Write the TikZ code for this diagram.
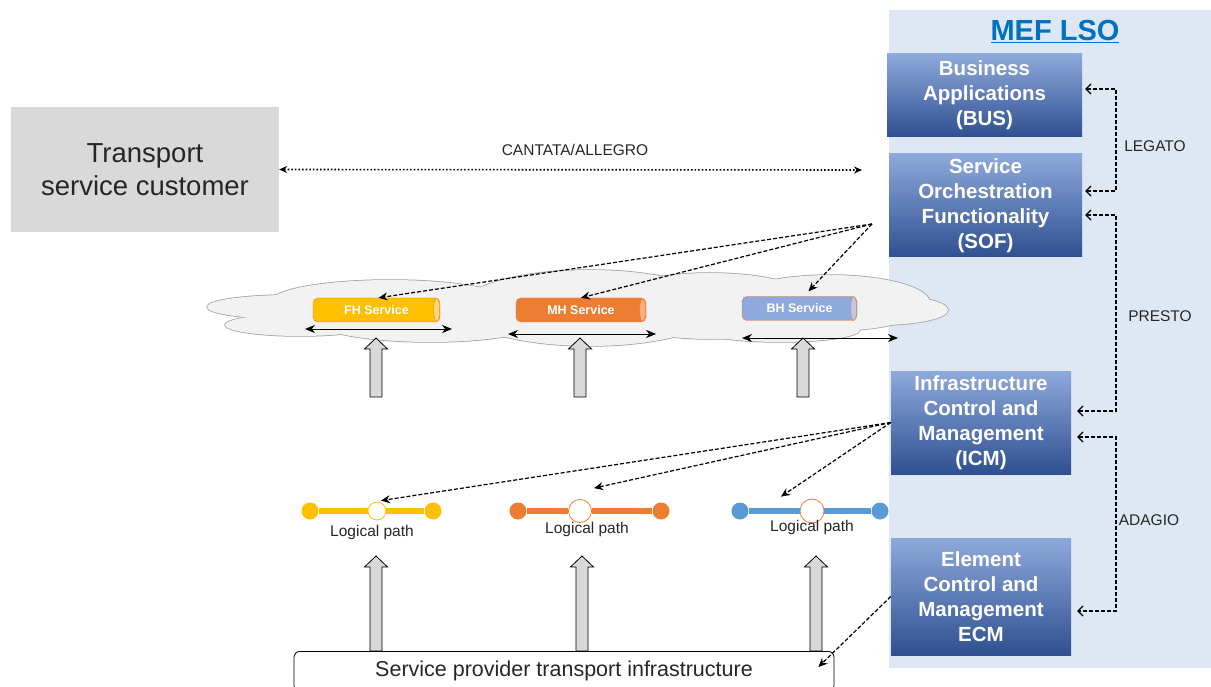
\documentclass[tikz,border=0pt]{standalone}
\usepackage{fontspec}
\setmainfont{Liberation Sans}
\usetikzlibrary{arrows.meta}
\definecolor{lsobg}{HTML}{DEE8F4}
\definecolor{lsotop}{HTML}{8EA9DB}
\definecolor{lsomid}{HTML}{4472C4}
\definecolor{lsobot}{HTML}{2F5090}
\definecolor{mefblue}{HTML}{0070C0}
\definecolor{custgray}{HTML}{D9D9D9}
\definecolor{cloudfill}{HTML}{F2F2F2}
\definecolor{cloudedge}{HTML}{A0A0A0}
\definecolor{fhyellow}{HTML}{FFC000}
\definecolor{mhorange}{HTML}{ED7D31}
\definecolor{bhblue}{HTML}{8EA9DB}
\definecolor{pathblue}{HTML}{5B9BD5}
\definecolor{labelgray}{HTML}{262626}
\tikzset{
    lsobox/.style={top color=lsotop, middle color=lsomid, bottom color=lsobot, text=white,
        align=center, inner sep=0pt, font=\fontsize{20.5}{25}\selectfont\bfseries},
    pipe/.style={draw=mhorange, rounded corners=5pt, minimum height=24pt, inner sep=0pt,
        text=white, font=\fontsize{12.5}{14}\selectfont\bfseries},
    lbl/.style={text=labelgray, font=\fontsize{15.5}{17}\selectfont},
    link/.style={dash pattern=on 4pt off 2pt, line width=1.2pt, {Straight Barb[length=5pt,width=10pt]}-{Straight Barb[length=5pt,width=10pt]}},
    ctl/.style={dash pattern=on 4pt off 2pt, line width=1.2pt, -{Stealth[length=9pt,width=8pt]}},
    span/.style={thick, {Stealth[length=10pt,width=8pt]}-{Stealth[length=10pt,width=8pt]}},
    dot/.style={circle, inner sep=0pt, minimum size=17pt},
    hole/.style={circle, inner sep=0pt, fill=white, thick},
    upbig/.style={draw, fill=custgray, thick}
}
\begin{document}
\begin{tikzpicture}[x=1pt, y=-1pt, >=Stealth]
        \useasboundingbox (0,0) rectangle (1211,687);
        \fill[lsobg] (889,10) rectangle (1211,668);
        \node[font=\fontsize{29}{32}\selectfont\bfseries, text=mefblue] (title) at (1055,32) {\underline{MEF LSO}};
        \node[lsobox, minimum width=195pt, minimum height=83pt] (bus) at (984.5,95.5) {Business\\Applications\\(BUS)};
        \node[lsobox, minimum width=193pt, minimum height=103pt] (sof) at (985.5,205.5) {Service\\Orchestration\\Functionality\\(SOF)};
        \node[lsobox, minimum width=180pt, minimum height=103pt] (icm) at (981,422.5) {Infrastructure\\Control and\\Management\\(ICM)};
        \node[lsobox, minimum width=180pt, minimum height=117pt] (ecm) at (981,596.5) {Element\\Control and\\Management\\ECM};
        \node[fill=custgray, minimum width=268pt, minimum height=125pt, align=center, text=labelgray,
            font=\fontsize{27.5}{33}\selectfont] (tsc) at (145,169.5) {Transport\\service customer};
        \coordinate (lsoin) at (862,170);
        \draw[dotted, line width=1.6pt, {Stealth[length=8pt,width=7pt]}-{Stealth[length=8pt,width=7pt]}] (tsc.east) -- (lsoin);
        \node[lbl] (cantata) at (575,150) {CANTATA/ALLEGRO};
        \draw[link, shorten <=3pt, shorten >=3pt] (bus.east |- 0,89) -| (1116,191) -- (sof.east |- 0,191);
        \draw[link, shorten <=3pt, shorten >=6pt] (sof.east |- 0,215) -| (1116,411) -- (icm.east |- 0,411);
        \draw[link, shorten <=6pt, shorten >=6pt] (icm.east |- 0,437) -| (1116,611) -- (ecm.east |- 0,611);
        \node[lbl] (legato) at (1155,146) {LEGATO};
        \node[lbl] (presto) at (1160,316) {PRESTO};
        \node[lbl] (adagio) at (1149,520) {ADAGIO};
        \foreach \cx/\cy/\rx/\ry in {290/307/83/12, 300/325/75/11, 390/302/120/22, 430/318/120/24,
            590/308/130/38, 710/306/110/33, 830/303/100/28, 880/310/68/15, 780/330/80/12}
            {
                \draw[cloudedge, line width=1.5pt] (\cx,\cy) ellipse ({\rx pt} and {\ry pt});
            }
        \foreach \cx/\cy/\rx/\ry in {290/307/83/12, 300/325/75/11, 390/302/120/22, 430/318/120/24,
            590/308/130/38, 710/306/110/33, 830/303/100/28, 880/310/68/15, 780/330/80/12}
            {
                \fill[cloudfill] (\cx,\cy) ellipse ({\rx pt} and {\ry pt});
            }
        \node[pipe, fill=fhyellow, minimum width=127pt] (fh) at (376.5,310) {FH Service};
        \node[pipe, fill=mhorange, minimum width=130pt] (mh) at (581,310) {MH Service};
        \node[pipe, fill=bhblue, minimum width=115pt] (bh) at (799.5,308.5) {BH Service};
        \draw[mhorange, fill=fhyellow!55!white] ([xshift=-3.5pt]fh.east) ellipse (3pt and 11.5pt);
        \draw[mhorange, fill=mhorange!60!white] ([xshift=-3.5pt]mh.east) ellipse (3pt and 11.5pt);
        \draw[mhorange, fill=bhblue!60!white] ([xshift=-3.5pt]bh.east) ellipse (3pt and 12pt);
        \coordinate (fha) at (305,329); \coordinate (fhb) at (452,329);
        \coordinate (mha) at (508,334); \coordinate (mhb) at (656,334);
        \coordinate (bha) at (742,338); \coordinate (bhb) at (898,338);
        \draw[span] (fha) -- (fhb);
        \draw[span] (mha) -- (mhb);
        \draw[span] (bha) -- (bhb);
        \coordinate (sofsrc) at (872,224);
        \draw[ctl] (sofsrc) -- ([xshift=2pt]fh.north);
        \draw[ctl] (sofsrc) -- (mh.north);
        \draw[ctl] (sofsrc) -- ([xshift=9pt,yshift=5pt]bh.north);
        \foreach \x/\ya/\yb in {376/397/338, 580/397/338, 803/397/338, 376/651/556, 582/651/556, 816/651/556}
            {
                \draw[upbig] (\x-6,\ya) -- (\x-6,\yb+11) -- (\x-11.5,\yb+11) -- (\x,\yb)
                    -- (\x+11.5,\yb+11) -- (\x+6,\yb+11) -- (\x+6,\ya) -- cycle;
            }
        \foreach \n/\col/\xa/\xc/\xb/\sz/\ring in {fh/fhyellow/310/377/433/18/fhyellow,
            mh/mhorange/518/580/661/23/mhorange, bh/pathblue/740/812/880/24/mhorange}
            {
                \node[dot, fill=\col] (\n l) at (\xa,511) {};
                \node[dot, fill=\col] (\n r) at (\xb,511) {};
                \node[hole, draw=\ring, minimum size=\sz pt] (\n c) at (\xc,511) {};
                \draw[\col, line width=6pt] (\n l) -- (\n c) -- (\n r);
            }
        \node[lbl] (fhlp) at (372,532) {Logical path};
        \node[lbl] (mhlp) at (587,529) {Logical path};
        \node[lbl] (bhlp) at (812,527) {Logical path};
        \draw[ctl] (icm.west) -- ([xshift=4pt,yshift=1pt]fhc.north);
        \draw[ctl] (icm.west) -- ([xshift=14pt,yshift=11pt]mhc.north);
        \draw[ctl] (icm.west) -- ([xshift=-31pt,yshift=2pt]bhc.north);
        \node[draw, thick, rounded corners=6pt, minimum width=540pt, minimum height=40pt, anchor=north,
            text=labelgray, font=\fontsize{21.5}{24}\selectfont] (infra) at (564,651) {Service provider transport infrastructure};
        \draw[ctl] (ecm.west) -- ([shift={(-16pt,-16pt)}]infra.north east);
    \end{tikzpicture}
\end{document}
